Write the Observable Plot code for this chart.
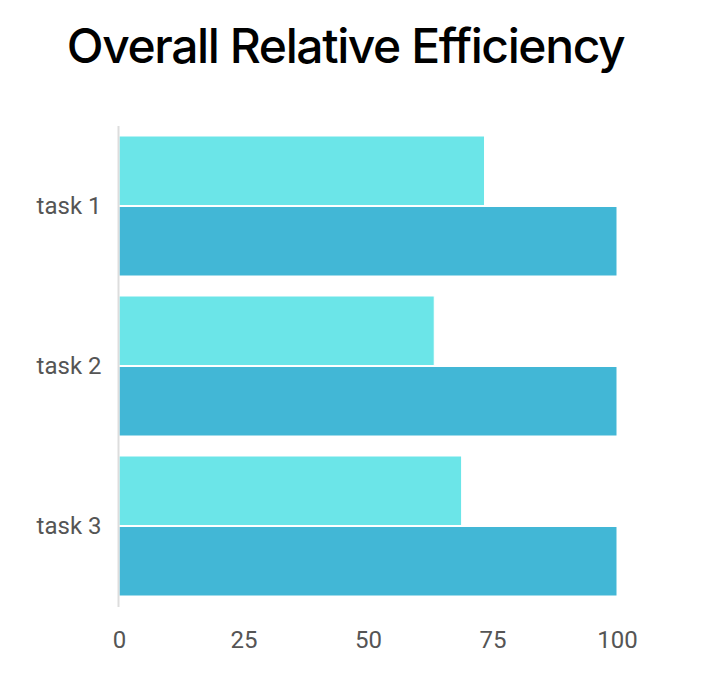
<!DOCTYPE html>
<html>
<head>
<meta charset="utf-8">
<script src="https://cdn.jsdelivr.net/npm/d3@7"></script>
<script src="https://cdn.jsdelivr.net/npm/@observablehq/plot@0.6"></script>
<style>
  html, body { margin: 0; padding: 0; background: #fff; }
  #title { height: 100px; line-height: 92px; text-align: center; padding-right: 26px; font-family: Inter, "Liberation Sans", sans-serif; font-size: 48px; font-weight: 500; letter-spacing: -1.4px; color: #000; }
</style>
</head>
<body>
<div id="title">Overall Relative Efficiency</div>
<div id="chart"></div>
<script>
const tasks = ["task 1", "task 2", "task 3"];
const relativeEfficiency = [73.4, 63.3, 68.8];
const baselineEfficiency = [100, 100, 100];
const xTicks = [0, 25, 50, 75, 100];

const lightData = tasks.map((t, i) => ({task: t, value: relativeEfficiency[i]}));
const darkData = tasks.map((t, i) => ({task: t, value: baselineEfficiency[i]}));

const width = 717, height = 589;
const marginTop = 26, marginBottom = 82;
const paddingInner = 0.124, paddingOuter = 0.056;
const rangeLen = height - marginTop - marginBottom;
const step = rangeLen / (tasks.length - paddingInner + 2 * paddingOuter);
const bw = step * (1 - paddingInner);
const half = bw / 2;

const chart = Plot.plot({
  width, height,
  marginTop, marginBottom,
  marginLeft: 119, marginRight: 100,
  style: {fontFamily: "Roboto, sans-serif", fontSize: "24px", color: "#555", background: "#fff"},
  x: {domain: [0, 100], ticks: xTicks, tickSize: 0, tickPadding: 23, label: null},
  y: {domain: tasks, paddingInner, paddingOuter, tickSize: 0, tickPadding: 18, label: null},
  marks: [
    Plot.barX(lightData, {y: "task", x: "value", fill: "#6be5e8", stroke: "#fff", strokeWidth: 1, insetBottom: half}),
    Plot.barX(darkData, {y: "task", x: "value", fill: "#42b7d6", stroke: "#fff", strokeWidth: 1, insetTop: half}),
    Plot.ruleX([0], {stroke: "#ddd", strokeWidth: 2, dx: -1})
  ]
});
document.getElementById("chart").appendChild(chart);
</script>
</body>
</html>
